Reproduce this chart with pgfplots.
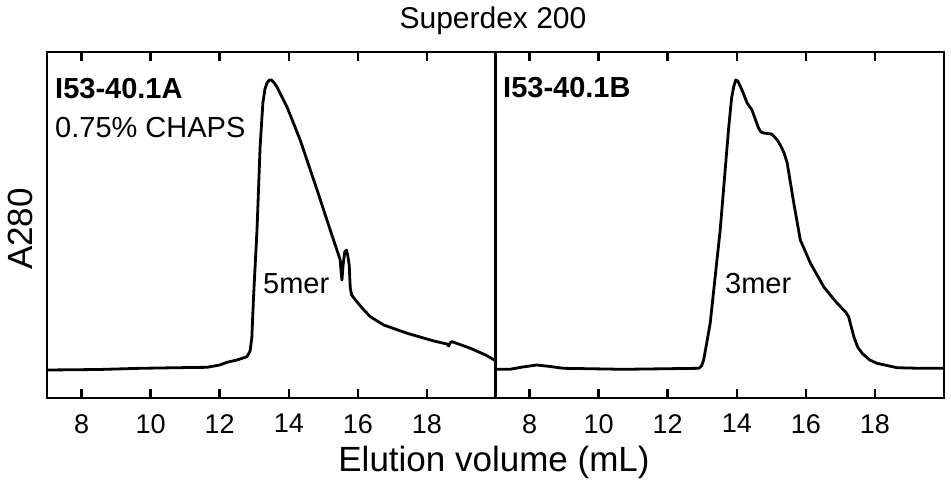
\documentclass[border=0pt]{standalone}
\usepackage{pgfplots}
\pgfplotsset{compat=1.18}
\usepackage{fontspec}
\setmainfont{Liberation Sans}
\newcommand{\fs}[1]{\fontsize{#1}{#1}\selectfont}
\pgfplotsset{
  panel/.style={
    scale only axis, width=449pt, height=346pt,
    xmin=7, xmax=20, ymin=0, ymax=346,
    xtick={8,10,12,14,16,18}, ytick=\empty,
    tick align=inside, major tick length=9pt,
    tick style={line width=2.4pt, black},
    axis on top, clip=false,
    every axis/.append style={line width=2.6pt},
    xticklabel style={font=\fs{27}, inner sep=0pt, yshift=-15pt},
    /pgf/number format/assume math mode=true,
  },
  curve/.style={black, line width=2.8pt, line join=round, no markers},
}
\begin{document}
\begin{tikzpicture}
\begin{axis}[panel, at={(0pt,0pt)}, anchor=south west]
\addplot[curve] coordinates {
(7.0,28) (8.5,28.5) (9.7,29.7) (10.8,30.3) (11.63,30.7) (12.0,33) (12.21,35.7) (12.5,38) (12.79,41.3) (12.88,47) (12.93,60)
(12.98,101) (13.08,168) (13.17,251) (13.25,295) (13.31,309) (13.37,315) (13.44,318) (13.5,318) (13.58,315) (13.66,311)
(13.95,291) (14.33,258) (14.82,208) (15.2,168) (15.49,138) (15.52,124) (15.54,118) (15.57,132) (15.62,146) (15.67,148)
(15.71,142) (15.75,133) (15.78,110) (15.82,103) (15.93,98) (16.15,89) (16.36,81.3) (16.75,73) (17.43,64.7) (18.2,57)
(18.58,54) (18.63,52) (18.68,55.5) (18.73,56.3) (19.26,49.7) (19.7,43) (20,37)
};
\end{axis}
\begin{axis}[panel, at={(448pt,0pt)}, anchor=south west]
\addplot[curve] coordinates {
(7.0,28.7) (7.43,28.7) (7.8,31) (8.21,33) (8.6,31.5) (8.98,29.7) (10.72,28.7) (12.9,29.7) (12.98,32) (13.04,38) (13.13,55)
(13.23,74.7) (13.52,168) (13.76,268) (13.85,300) (13.91,311) (13.97,318) (14.03,317) (14.15,308) (14.3,295) (14.44,288)
(14.63,270) (14.7,266) (14.78,265) (15.0,264) (15.07,262) (15.17,258) (15.26,253) (15.37,245) (15.46,235) (15.65,195) (15.84,158)
(16.13,135) (16.52,111) (16.9,95) (17.15,86) (17.24,81.3) (17.3,73) (17.39,61.3) (17.5,51) (17.63,44.7) (17.85,38) (18.06,34.7)
(18.64,30.3) (19.2,29.8) (20,29.7)
};
\end{axis}
\node[anchor=base] at (446pt,369pt) {\fs{30}Superdex 200};
\node[anchor=base] at (447pt,-73pt) {\fs{35}Elution volume (mL)};
\node[anchor=base, rotate=90] at (-14pt,169pt) {\fs{35}A280};
\node[anchor=base west, inner sep=0pt] at (8pt,299pt) {\fs{29}\bfseries I53-40.1A};
\node[anchor=base west, inner sep=0pt] at (8pt,261pt) {\fs{29}0.75\% CHAPS};
\node[anchor=base west, inner sep=0pt] at (456pt,300pt) {\fs{29}\bfseries I53-40.1B};
\node[anchor=base west, inner sep=0pt] at (216pt,105pt) {\fs{29}5mer};
\node[anchor=base west, inner sep=0pt] at (678pt,105pt) {\fs{29}3mer};
\path (-47pt,-85pt) rectangle (904pt,398pt);
\end{tikzpicture}
\end{document}
